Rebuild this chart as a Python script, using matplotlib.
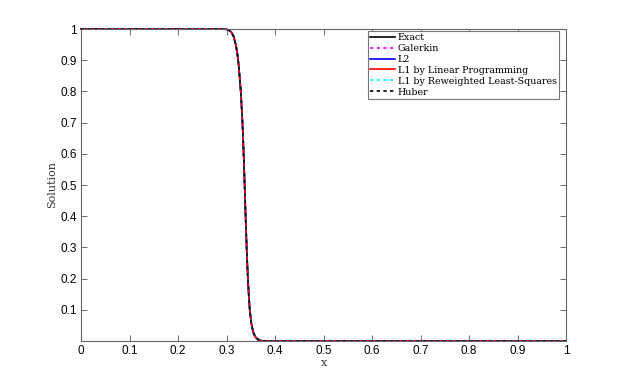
import matplotlib
matplotlib.use("Agg")
import matplotlib.pyplot as plt

x_vals = [0.0, 0.29, 0.30, 0.305, 0.310, 0.315, 0.319, 0.322, 0.325, 0.329, 0.332,
          0.334, 0.336, 0.338, 0.340, 0.342, 0.344, 0.346, 0.348, 0.351, 0.355,
          0.360, 0.365, 0.370, 0.378, 1.0]
y_vals = [1.0, 1.0, 0.999, 0.996, 0.99, 0.975, 0.95, 0.925, 0.885, 0.81, 0.73,
          0.66, 0.57, 0.47, 0.37, 0.28, 0.205, 0.145, 0.10, 0.058, 0.028,
          0.012, 0.005, 0.0015, 0.0, 0.0]

series = ["Exact", "Galerkin", "L2", "L1 by Linear Programming",
          "L1 by Reweighted Least-Squares", "Huber"]
colors = ["black", "magenta", "blue", "red", "cyan", "black"]
styles = ["-", "--", "-", "-", "--", "--"]

xticks = [0, 0.1, 0.2, 0.3, 0.4, 0.5, 0.6, 0.7, 0.8, 0.9, 1]
xticklabels = ["0", "0.1", "0.2", "0.3", "0.4", "0.5", "0.6", "0.7", "0.8", "0.9", "1"]
yticks = [0.1, 0.2, 0.3, 0.4, 0.5, 0.6, 0.7, 0.8, 0.9, 1]
yticklabels = ["0.1", "0.2", "0.3", "0.4", "0.5", "0.6", "0.7", "0.8", "0.9", "1"]

fig = plt.figure(figsize=(6.23, 3.84), dpi=100)
ax = fig.add_axes([81/623, 1-341/384, 485/623, 312/384])

for name, c, ls in zip(series, colors, styles):
    kw = dict(dashes=(2, 2)) if ls == "--" else {}
    ax.plot(x_vals, y_vals, color=c, linestyle=ls, linewidth=1.2, label=name,
            clip_on=False, **kw)

ax.set_xlim(0, 1)
ax.set_ylim(0, 1)
ax.set_xticks(xticks)
ax.set_xticklabels(xticklabels, fontfamily="Liberation Sans", fontsize=8.5)
ax.set_yticks(yticks)
ax.set_yticklabels(yticklabels, fontfamily="Liberation Sans", fontsize=8.5)
ax.tick_params(direction="in", top=True, right=True, length=4, width=0.6,
               color="#555555", pad=3)
for s in ax.spines.values():
    s.set_color("#666666")
    s.set_linewidth(0.8)

ax.set_xlabel("x", fontfamily="DejaVu Serif", fontsize=8, labelpad=0.5, color="#333333")
ax.set_ylabel("Solution", fontfamily="DejaVu Serif", fontsize=8, labelpad=2, color="#333333")

leg = ax.legend(loc="upper right", bbox_to_anchor=((559-81)/485, (341-30.7)/312),
                borderaxespad=0, prop={"family": "DejaVu Serif", "size": 6.8},
                labelspacing=0.2, handlelength=2.6, handletextpad=0.3,
                borderpad=0.25, fancybox=False, framealpha=1)
leg.get_frame().set_edgecolor("#777777")
leg.get_frame().set_linewidth(0.8)

fig.savefig("out.png", dpi=100)
